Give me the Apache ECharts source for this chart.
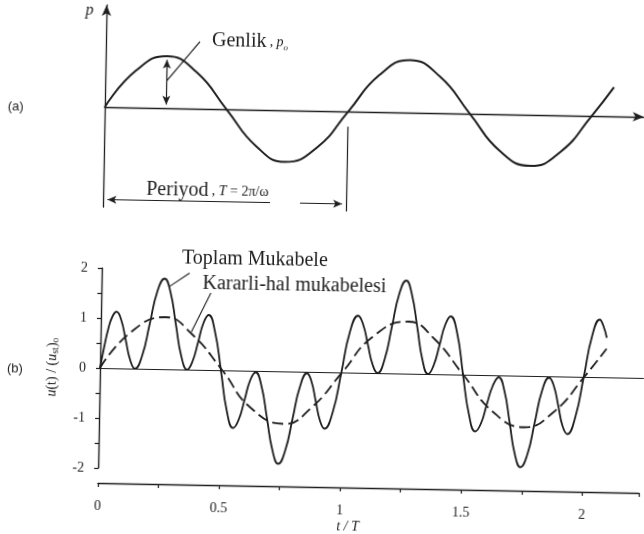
<!DOCTYPE html>
<html>
<head>
<meta charset="utf-8">
<script src="https://cdn.jsdelivr.net/npm/echarts@6/dist/echarts.min.js"></script>
<style>
  html, body { margin: 0; padding: 0; background: #fff; overflow: hidden; }
  /* the scanned figure is tilted by about one degree */
  #chart { width: 644px; height: 534px; transform: rotate(1.05deg); transform-origin: 100px 368px; }
</style>
</head>
<body>
<div id="chart"></div>
<script>
// (a) loading p(t), t in periods
const tLoad = [0, 0.125, 0.252, 0.375, 0.5, 0.625, 0.744, 0.875, 1.0, 1.125, 1.25, 1.375, 1.5, 1.625, 1.751, 1.875, 2.0, 2.09];
const pLoad = [0, 0.71, 1.0, 0.7, 0, -0.7, -0.99, -0.7, 0, 0.71, 1.01, 0.7, 0, -0.7, -0.98, -0.7, 0, 0.56];

// (b) total response
const tTotal = [0, 0.016, 0.032, 0.048, 0.064, 0.084, 0.104, 0.124, 0.144,
  0.173, 0.202, 0.231, 0.26, 0.285, 0.31, 0.335, 0.36,
  0.381, 0.403, 0.424, 0.445, 0.472, 0.5, 0.527, 0.554,
  0.576, 0.599, 0.621, 0.643, 0.668, 0.693, 0.718, 0.743,
  0.771, 0.799, 0.827, 0.855, 0.874, 0.893, 0.912, 0.931,
  0.964, 0.997, 1.029, 1.062, 1.083, 1.104, 1.125, 1.146,
  1.174, 1.202, 1.23, 1.258, 1.282, 1.307, 1.331, 1.355,
  1.377, 1.4, 1.422, 1.444, 1.472, 1.499, 1.527, 1.554,
  1.577, 1.6, 1.624, 1.647, 1.671, 1.695, 1.719, 1.743,
  1.771, 1.799, 1.827, 1.855, 1.875, 1.895, 1.914, 1.934,
  1.966, 1.998, 2.029, 2.06, 2.075, 2.09];
const uTotal = [0, 0.43, 0.8, 1.04, 1.13, 0.97, 0.57, 0.17, 0,
  0.26, 0.9, 1.55, 1.81, 1.55, 0.9, 0.26, 0,
  0.16, 0.55, 0.94, 1.10, 0.77, -0.02, -0.82, -1.15,
  -0.99, -0.59, -0.19, -0.03, -0.3, -0.94, -1.58, -1.85,
  -1.58, -0.94, -0.3, -0.03, -0.19, -0.58, -0.97, -1.13,
  -0.8, 0, 0.81, 1.14, 0.97, 0.57, 0.17, 0,
  0.27, 0.93, 1.59, 1.86, 1.59, 0.93, 0.27, 0,
  0.17, 0.58, 0.99, 1.16, 0.83, 0.01, -0.8, -1.13,
  -0.97, -0.58, -0.2, -0.04, -0.3, -0.93, -1.57, -1.83,
  -1.57, -0.93, -0.29, -0.03, -0.19, -0.59, -0.99, -1.15,
  -0.81, 0, 0.81, 1.15, 1.03, 0.79];

// (b) steady-state response (dashed)
const tSteady = [0, 0.125, 0.267, 0.375, 0.505, 0.625, 0.765, 0.875, 1.0, 1.125, 1.27, 1.375, 1.5, 1.625, 1.755, 1.875, 2.0, 2.09];
const uSteady = [0, 0.73, 1.04, 0.72, 0, -0.74, -1.05, -0.72, 0, 0.73, 1.04, 0.72, 0, -0.73, -1.03, -0.72, 0, 0.57];

const xTickLabels = ['0', '0.5', '1', '1.5', '2'];
const yTickLabels = ['-2', '-1', '0', '1', '2'];

const ink = '#1e1e1e';
const serif = '"Liberation Serif", "DejaVu Serif", serif';

function zip(a, b) { return a.map((v, i) => [v, b[i]]); }

const chart = echarts.init(document.getElementById('chart'), null, { renderer: 'canvas' });

const plain = { show: false };
const lineMark = (color, width) => ({ color: color, width: width, type: 'solid' });

chart.setOption({
  animation: false,
  backgroundColor: 'transparent',
  grid: [
    { left: 100, top: 5, width: 539, height: 202 },
    { left: 100, top: 268, width: 544, height: 200 }
  ],
  xAxis: [
    {
      gridIndex: 0, type: 'value', min: 0, max: 2.214,
      axisLine: { onZero: true, symbol: ['none', 'arrow'], symbolSize: [7, 11], lineStyle: { color: ink, width: 1.3 } },
      axisTick: plain, axisLabel: plain, splitLine: plain
    },
    {
      gridIndex: 1, type: 'value', min: 0, max: 2.234, interval: 0.25, offset: 15,
      axisLine: { onZero: false, lineStyle: { color: ink, width: 1.4 } },
      axisTick: { show: true, length: 4, lineStyle: { color: ink, width: 1.2 } },
      axisLabel: {
        margin: 16, color: ink, fontFamily: serif, fontSize: 14,
        formatter: v => (Math.abs(v * 2 - Math.round(v * 2)) < 1e-6 ? xTickLabels[Math.round(v * 2)] : '')
      },
      splitLine: plain,
      name: 't / T', nameLocation: 'middle', nameGap: 32,
      nameTextStyle: { color: ink, fontFamily: serif, fontStyle: 'italic', fontSize: 14, padding: [0, 40, 0, 0] }
    }
  ],
  yAxis: [
    {
      gridIndex: 0, type: 'value', min: -1.92, max: 1.96,
      axisLine: { show: true, onZero: true, symbol: ['none', 'arrow'], symbolSize: [7, 11], lineStyle: { color: ink, width: 1.3 } },
      axisTick: plain, axisLabel: plain, splitLine: plain
    },
    {
      gridIndex: 1, type: 'value', min: -2, max: 2, interval: 0.5,
      axisLine: { show: true, onZero: false, lineStyle: { color: ink, width: 1.4 } },
      axisTick: { show: true, length: 4, lineStyle: { color: ink, width: 1.2 } },
      axisLabel: {
        margin: 14, color: ink, fontFamily: serif, fontSize: 14,
        formatter: v => (Number.isInteger(v) ? yTickLabels[v + 2] : '')
      },
      splitLine: plain,
      name: '{i|u}(t) / ({i|u}{s|st}){s|o}', nameLocation: 'middle', nameGap: 40,
      nameTextStyle: {
        color: ink, fontFamily: serif, fontSize: 14,
        rich: {
          i: { fontFamily: serif, fontStyle: 'italic', fontSize: 14, color: ink },
          s: { fontFamily: serif, fontSize: 10, color: ink, verticalAlign: 'bottom', padding: [6, 0, 0, 0] }
        }
      }
    }
  ],
  series: [
    {
      name: 'p', type: 'line', xAxisIndex: 0, yAxisIndex: 0,
      data: zip(tLoad, pLoad), smooth: true, showSymbol: false, silent: true,
      lineStyle: { color: ink, width: 2 },
      markLine: {
        silent: true, animation: false, label: plain,
        symbol: ['none', 'none'], symbolSize: [6, 9],
        lineStyle: lineMark(ink, 1.2),
        data: [
          // amplitude arrow
          [{ coord: [0.252, 0.93], symbol: 'arrow' }, { coord: [0.252, 0.07], symbol: 'arrow' }],
          // leader to "Genlik"
          [{ coord: [0.386, 1.289], symbol: 'none' }, { coord: [0.2526, 0.528], symbol: 'none' }],
          // period arrow, left part
          [{ coord: [0.018, -1.777], symbol: 'arrow' }, { coord: [0.686, -1.777], symbol: 'none' }],
          // period arrow, right part
          [{ coord: [0.809, -1.777], symbol: 'none' }, { coord: [0.982, -1.777], symbol: 'arrow' }],
          // end-of-period marker
          [{ coord: [1.0, -0.29], symbol: 'none' }, { coord: [1.0, -1.92], symbol: 'none' }]
        ]
      }
    },
    {
      name: 'Toplam Mukabele', type: 'line', xAxisIndex: 1, yAxisIndex: 1,
      data: zip(tTotal, uTotal), smooth: true, showSymbol: false, silent: true,
      lineStyle: { color: ink, width: 1.8 },
      markLine: {
        silent: true, animation: false, label: plain,
        symbol: ['none', 'none'],
        lineStyle: lineMark(ink, 1.1),
        data: [
          [{ yAxis: 0, x: 100 }, { yAxis: 0, x: 644 }],
          [{ coord: [0.3626, 1.93] }, { coord: [0.2813, 1.658] }],
          [{ coord: [0.452, 1.54] }, { coord: [0.374, 0.75] }]
        ]
      }
    },
    {
      name: 'Kararli-hal mukabelesi', type: 'line', xAxisIndex: 1, yAxisIndex: 1,
      data: zip(tSteady, uSteady), smooth: true, showSymbol: false, silent: true,
      lineStyle: { color: ink, width: 1.8, type: [11, 5] }
    }
  ],
  graphic: [
    { type: 'text', x: 83, y: 11, style: { text: 'p', font: 'italic 16px ' + serif, fill: ink, align: 'center', verticalAlign: 'middle' } },
    { type: 'text', x: 3, y: 108, style: { text: '(a)', font: '13px "Liberation Sans", sans-serif', fill: ink, verticalAlign: 'middle' } },
    { type: 'text', x: 7, y: 370, style: { text: '(b)', font: '13px "Liberation Sans", sans-serif', fill: ink, verticalAlign: 'middle' } },
    {
      type: 'text', x: 206, y: 39,
      style: {
        text: '{a|Genlik} {b|,} {c|p}{d|o}', verticalAlign: 'middle', fill: ink,
        rich: {
          a: { font: '20px ' + serif, fill: ink },
          b: { font: '14px ' + serif, fill: ink },
          c: { font: 'italic 14px ' + serif, fill: ink },
          d: { font: 'italic 9px ' + serif, fill: ink, verticalAlign: 'bottom', padding: [6, 0, 0, 0] }
        }
      }
    },
    {
      type: 'text', x: 143, y: 189,
      style: {
        text: '{a|Periyod} {b|, }{c|T}{b| = 2π/ω}', verticalAlign: 'middle', fill: ink,
        rich: {
          a: { font: '20px ' + serif, fill: ink },
          b: { font: '14px ' + serif, fill: ink },
          c: { font: 'italic 14px ' + serif, fill: ink }
        }
      }
    },
    { type: 'text', x: 180, y: 257, style: { text: 'Toplam Mukabele', font: '20px ' + serif, fill: ink, verticalAlign: 'middle' } },
    { type: 'text', x: 201, y: 282, style: { text: 'Kararli-hal mukabelesi', font: '20px ' + serif, fill: ink, verticalAlign: 'middle' } }
  ]
});
</script>
</body>
</html>
